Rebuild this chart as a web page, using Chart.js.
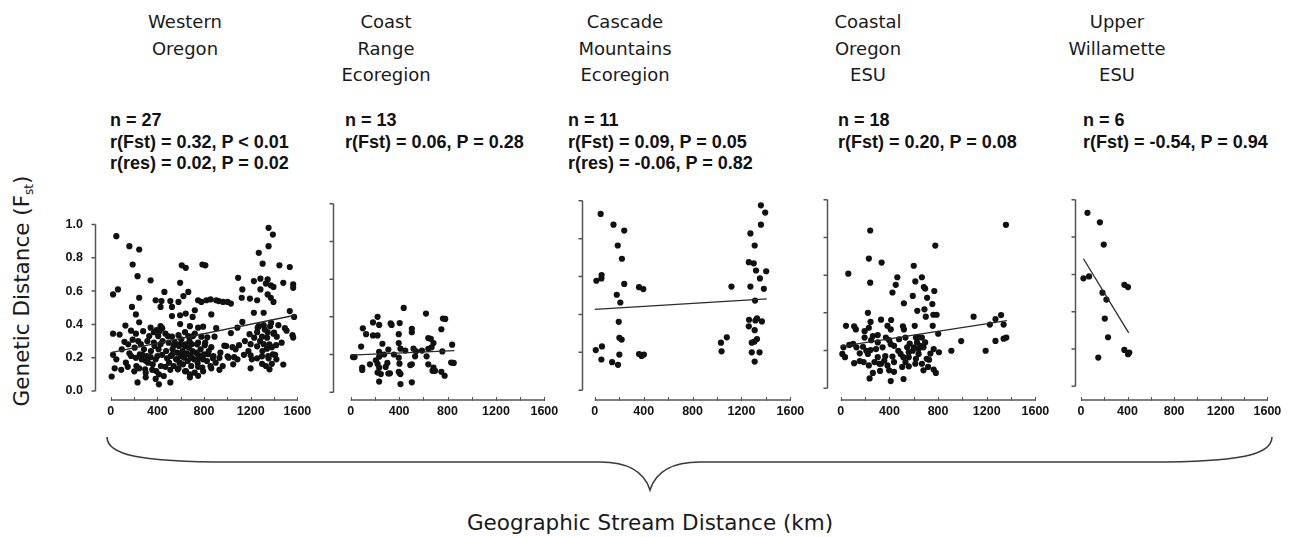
<!DOCTYPE html>
<html>
<head>
<meta charset="utf-8">
<title>Genetic vs geographic stream distance</title>
<script src="https://cdn.jsdelivr.net/npm/chart.js@4.4.1/dist/chart.umd.min.js"></script>
<style>
  html, body { margin: 0; padding: 0; background: #fff; }
  #page { position: relative; width: 1295px; height: 537px; overflow: hidden; background: #fff; }
  .panel { position: absolute; }
  .title { position: absolute; transform: translateX(-50%); text-align: center; white-space: nowrap;
           font-family: "DejaVu Sans", Verdana, sans-serif; font-size: 18px; line-height: 26.5px; color: #1a1a1a; }
  .stats { position: absolute; white-space: pre;
           font-family: "Liberation Sans", Arial, sans-serif;
           font-weight: bold; font-size: 18px; line-height: 21.5px; color: #111; }
  #ytitle { position: absolute; left: 22px; top: 291px; transform: translate(-50%, -50%) rotate(-90deg);
            white-space: nowrap; font-family: "DejaVu Sans", sans-serif; font-size: 21.5px; color: #1a1a1a; }
  #ytitle sub { font-size: 12px; vertical-align: -4px; }
  #xtitle { position: absolute; left: 650px; top: 522px; transform: translate(-50%, -50%);
            white-space: nowrap; font-family: "DejaVu Sans", sans-serif; font-size: 21.5px; color: #1a1a1a; }
  #brace { position: absolute; left: 0; top: 0; }
</style>
</head>
<body>
<div id="page">
  <svg id="brace" width="1295" height="537">
    <path d="M107 437 C107 455 140 462 230 462 L600 462 C632 462 645 474 650 490 C655 474 668 462 700 462 L1150 462 C1240 462 1272 455 1272 437"
          fill="none" stroke="#3a3a3a" stroke-width="1.6"/>
  </svg>
  <div id="ytitle">Genetic Distance (F<sub>st</sub>)</div>
  <div id="xtitle">Geographic Stream Distance (km)</div>
</div>
<script>
// Axis ticks shared by every panel
const tickKm = [0, 400, 800, 1200, 1600];
const minorKm = [0, 200, 400, 600, 800, 1000, 1200, 1400, 1600];
const tickFst = [0, 0.2, 0.4, 0.6, 0.8, 1.0];

// Panel headings and summary statistics
const panelTitles = [
  ["Western", "Oregon"],
  ["Coast", "Range", "Ecoregion"],
  ["Cascade", "Mountains", "Ecoregion"],
  ["Coastal", "Oregon", "ESU"],
  ["Upper", "Willamette", "ESU"]
];
const panelStats = [
  ["n = 27", "r(Fst) = 0.32, P < 0.01", "r(res) = 0.02, P = 0.02"],
  ["n = 13", "r(Fst) = 0.06, P = 0.28"],
  ["n = 11", "r(Fst) = 0.09, P = 0.05", "r(res) = -0.06, P = 0.82"],
  ["n = 18", "r(Fst) = 0.20, P = 0.08"],
  ["n = 6", "r(Fst) = -0.54, P = 0.94"]
];

// Pairwise [stream distance km, Fst]
const westernOregon = [
  [1353,0.98],[1390,0.94],[48,0.93],[160,0.87],[244,0.85],[1353,0.87],[1269,0.83],
  [188,0.76],[609,0.755],[643,0.74],[786,0.76],[811,0.755],[1302,0.765],[1446,0.755],[1535,0.745],
  [230,0.69],[1092,0.68],[1227,0.66],[1283,0.675],[1345,0.67],[342,0.665],[595,0.65],[1479,0.65],
  [1564,0.64],[1564,0.62],[1330,0.645],[1372,0.635],[1395,0.625],[1128,0.61],[1283,0.61],
  [62,0.61],[20,0.58],[460,0.595],[665,0.595],[623,0.57],[244,0.56],[385,0.545],[435,0.54],[511,0.54],
  [581,0.535],[749,0.545],[777,0.535],[820,0.545],[856,0.55],[904,0.545],[926,0.54],[963,0.535],
  [1002,0.535],[1030,0.525],[1123,0.56],[1193,0.555],[1255,0.545],[1345,0.58],[1372,0.56],[1395,0.535],
  [182,0.505],[427,0.505],[525,0.505],[721,0.485],[643,0.465],[216,0.46],[525,0.45],[595,0.455],
  [702,0.445],[862,0.46],[1128,0.415],[1227,0.47],[1311,0.47],[1535,0.48],[1572,0.445],
  [126,0.393],[244,0.413],[342,0.38],[393,0.366],[427,0.389],[441,0.377],[595,0.402],[679,0.389],
  [749,0.38],[792,0.386],[904,0.377],[1086,0.38],[1269,0.389],[1311,0.395],[1367,0.389],[1437,0.395],[1493,0.377],
  [20,0.344],[76,0.339],[174,0.362],[216,0.344],[278,0.359],[370,0.353],[407,0.33],[469,0.344],[525,0.326],
  [581,0.335],[637,0.353],[665,0.33],[721,0.344],[777,0.326],[828,0.322],[890,0.326],[1030,0.348],
  [1190,0.341],[1255,0.353],[1297,0.326],[1345,0.353],[1395,0.344],[1423,0.326],[1507,0.362],[1558,0.335],[1564,0.321],
  [118,0.295],[188,0.308],[258,0.281],[314,0.299],[370,0.29],[427,0.281],[497,0.29],[539,0.272],[595,0.281],
  [637,0.268],[693,0.281],[749,0.29],[806,0.275],[862,0.263],[974,0.272],[1044,0.263],[1100,0.275],
  [1199,0.281],[1255,0.268],[1311,0.281],[1339,0.254],[1381,0.263],[1418,0.275],[1465,0.29],
  [20,0.217],[48,0.19],[160,0.226],[216,0.199],[272,0.217],[300,0.181],[342,0.203],[385,0.19],[441,0.217],
  [483,0.196],[525,0.217],[567,0.19],[609,0.208],[651,0.226],[693,0.199],[749,0.217],[792,0.19],[834,0.221],
  [876,0.196],[932,0.199],[1002,0.208],[1058,0.203],[1086,0.19],[1142,0.217],[1199,0.214],[1255,0.196],
  [1297,0.208],[1353,0.196],[1409,0.217],
  [34,0.136],[90,0.127],[146,0.145],[202,0.118],[244,0.136],[300,0.109],[356,0.127],[413,0.1],[469,0.145],
  [511,0.127],[581,0.136],[637,0.118],[679,0.1],[749,0.145],[792,0.118],[862,0.136],[932,0.127],
  [1199,0.136],[1297,0.163],[1361,0.13],[1381,0.163],[1479,0.159],
  [8,0.087],[230,0.051],[413,0.04],[511,0.051],[300,0.082],[385,0.072],[749,0.091],[679,0.082],
  [95,0.25],[130,0.17],[150,0.28],[175,0.21],[205,0.26],[220,0.15],[235,0.30],[250,0.22],[265,0.19],
  [285,0.25],[295,0.13],[310,0.21],[320,0.17],[330,0.33],[345,0.24],[360,0.16],[375,0.27],[390,0.12],
  [400,0.21],[410,0.25],[420,0.36],[430,0.15],[445,0.30],[455,0.09],[475,0.24],[490,0.33],[500,0.17],
  [515,0.21],[530,0.25],[540,0.15],[550,0.29],[560,0.19],[570,0.23],[575,0.13],[585,0.27],[590,0.17],
  [600,0.21],[605,0.31],[615,0.24],[620,0.16],[630,0.20],[640,0.28],[645,0.12],[655,0.22],[660,0.18],
  [670,0.26],[675,0.30],[685,0.21],[690,0.15],[700,0.24],[705,0.33],[715,0.19],[720,0.11],[730,0.23],
  [740,0.28],[745,0.17],[760,0.20],[770,0.25],[785,0.14],[800,0.22],[810,0.29],[825,0.18],[840,0.24],
  [855,0.15],[880,0.21],[900,0.17],[940,0.23],[960,0.15],[990,0.27],[1010,0.20],[1050,0.16],[1070,0.25],
  [1150,0.30],[1180,0.24],[1210,0.19],[1230,0.32],[1260,0.38],[1280,0.30],[1300,0.24],[1320,0.37],
  [1340,0.32],[1360,0.28],[1375,0.41],[1390,0.22],[1400,0.35],[1420,0.19],[1330,0.15],[1350,0.21]
];
const coastRange = [
  [222,0.40],[184,0.37],[235,0.357],[330,0.365],[338,0.357],[405,0.367],[622,0.417],[438,0.447],[762,0.391],[781,0.389],
  [100,0.339],[127,0.308],[184,0.301],[222,0.301],[397,0.308],[505,0.336],[505,0.318],[749,0.334],[641,0.287],[662,0.283],[684,0.261],
  [86,0.242],[262,0.257],[311,0.226],[397,0.261],[411,0.231],[519,0.231],[589,0.221],[641,0.23],[668,0.238],[757,0.216],[838,0.252],
  [235,0.214],[276,0.2],[19,0.186],[32,0.186],[357,0.2],[397,0.183],[532,0.19],[627,0.19],
  [159,0.148],[95,0.13],[95,0.118],[208,0.169],[222,0.15],[235,0.13],[303,0.155],[289,0.134],[403,0.151],[492,0.144],
  [505,0.148],[641,0.148],[684,0.13],[697,0.113],[676,0.113],[749,0.108],[776,0.087],[830,0.157],[851,0.155],
  [222,0.104],[249,0.096],[311,0.099],[324,0.1],[397,0.108],[411,0.096],[405,0.1],[235,0.056],[411,0.043],[505,0.052],
  [235,0.188],[451,0.221],[540,0.217]
];
const cascadeMountains = [
  [48,0.931],[153,0.874],[241,0.843],[188,0.764],[222,0.694],[241,0.561],[13,0.578],[54,0.59],[56,0.608],
  [180,0.504],[209,0.463],[362,0.544],[397,0.534],[196,0.361],[201,0.277],[220,0.267],[8,0.212],[59,0.231],
  [54,0.162],[142,0.148],[190,0.134],[201,0.188],[362,0.191],[383,0.181],[402,0.188],
  [1032,0.251],[1037,0.205],[1080,0.279],[1118,0.547],[1359,0.976],[1394,0.938],[1359,0.874],[1273,0.828],
  [1308,0.764],[1260,0.676],[1300,0.67],[1319,0.632],[1402,0.628],[1351,0.59],[1383,0.535],[1273,0.547],
  [1311,0.473],[1327,0.38],[1314,0.368],[1262,0.372],[1367,0.363],[1260,0.337],[1308,0.317],[1284,0.251],
  [1305,0.256],[1327,0.27],[1284,0.2],[1348,0.2],[1308,0.151]
];
const coastalOregon = [
  [1358,0.867],[242,0.837],[777,0.757],[231,0.688],[336,0.667],[62,0.608],[600,0.65],[465,0.589],[242,0.56],
  [667,0.589],[613,0.567],[683,0.537],[694,0.529],[452,0.549],[425,0.508],[769,0.516],[592,0.49],[519,0.451],
  [710,0.48],[753,0.447],[629,0.411],[688,0.419],[699,0.38],[761,0.39],[788,0.39],[1092,0.38],[1272,0.367],
  [1318,0.388],[1339,0.338],[1226,0.338],[223,0.4],[245,0.352],[331,0.364],[414,0.362],[384,0.331],[411,0.312],
  [43,0.331],[110,0.329],[124,0.312],[196,0.303],[231,0.321],[304,0.282],[371,0.269],[398,0.255],[511,0.329],
  [519,0.312],[532,0.269],[618,0.269],[640,0.272],[667,0.269],[756,0.331],[801,0.289],[608,0.331],[196,0.269],
  [250,0.255],[22,0.217],[70,0.23],[102,0.236],[183,0.22],[245,0.203],[223,0.182],[290,0.208],[344,0.217],
  [438,0.225],[473,0.199],[546,0.217],[567,0.237],[602,0.217],[640,0.208],[680,0.217],[764,0.208],[990,0.25],
  [909,0.199],[1191,0.199],[1272,0.251],[1361,0.269],[1339,0.263],[13,0.182],[35,0.165],[110,0.133],[156,0.144],
  [188,0.139],[231,0.121],[304,0.165],[317,0.13],[366,0.17],[384,0.121],[398,0.095],[425,0.168],[492,0.182],
  [514,0.165],[532,0.139],[559,0.165],[618,0.156],[640,0.182],[667,0.13],[680,0.095],[718,0.113],[764,0.099],
  [782,0.081],[726,0.151],[737,0.184],[807,0.191],[237,0.052],[264,0.081],[323,0.092],[411,0.038],[516,0.049],
  [559,0.116],[210,0.199],[264,0.277],[304,0.243],[331,0.13],[358,0.147],[411,0.234],[438,0.139],[479,0.26],
  [505,0.113],[559,0.191],[592,0.199],[613,0.13],[627,0.243],[653,0.225],[694,0.243],[707,0.156],[129,0.217],
  [156,0.185],[277,0.139],[438,0.087]
];
const upperWillamette = [
  [56,0.93],[163,0.879],[196,0.76],[22,0.579],[70,0.589],[185,0.502],[219,0.465],[373,0.544],[404,0.532],
  [205,0.363],[233,0.263],[149,0.154],[373,0.195],[404,0.172],[415,0.181]
];

// Least-squares lines, as drawn end to end
const westernOregonFit = [[0,0.23],[1580,0.455]];
const coastRangeFit = [[0,0.197],[857,0.221]];
const cascadeMountainsFit = [[0,0.427],[1407,0.482]];
const coastalOregonFit = [[0,0.222],[1366,0.359]];
const upperWillametteFit = [[22,0.684],[410,0.286]];

const panelPoints = [westernOregon, coastRange, cascadeMountains, coastalOregon, upperWillamette];
const panelFits = [westernOregonFit, coastRangeFit, cascadeMountainsFit, coastalOregonFit, upperWillametteFit];

// Page geometry of each panel (pixels): y-axis x, x=0 and x=1600 pixels, y=1 and y=0 pixels, x-axis line
const frames = [
  { axisX: 95,   x0: 111,  x1: 301,  y1: 206, y0: 390, base: 400, yW: 40, labels: true },
  { axisX: 333,  x0: 351,  x1: 548,  y1: 200, y0: 392, base: 400, yW: 10, labels: false },
  { axisX: 582,  x0: 595,  x1: 794,  y1: 197, y0: 390, base: 400, yW: 10, labels: false },
  { axisX: 827,  x0: 841,  x1: 1039, y1: 196, y0: 388, base: 400, yW: 10, labels: false },
  { axisX: 1075, x0: 1081, x1: 1271, y1: 196, y0: 386, base: 400, yW: 10, labels: false }
];
const titleCenters = [185, 386, 625, 868, 1117];
const statsLeft = [110, 345, 568, 838, 1083];

const tickFontFamily = "'Liberation Sans', Arial, sans-serif";

// Draws the detached axis lines with their small tick marks
const axisFrame = {
  id: 'axisFrame',
  beforeDatasetsDraw(chart) {
    const { ctx, scales: { x, y }, chartArea } = chart;
    ctx.save();
    ctx.strokeStyle = '#555';
    ctx.lineWidth = 1.5;
    const ax = chartArea.left + 0.5;
    ctx.beginPath();
    ctx.moveTo(ax, y.getPixelForValue(1.0));
    ctx.lineTo(ax, y.getPixelForValue(0));
    tickFst.forEach(v => {
      const py = y.getPixelForValue(v);
      ctx.moveTo(ax - 4, py);
      ctx.lineTo(ax, py);
    });
    ctx.stroke();
    const by = chartArea.bottom;
    ctx.lineWidth = 1.4;
    ctx.beginPath();
    ctx.moveTo(x.getPixelForValue(0), by);
    ctx.lineTo(x.getPixelForValue(1600), by);
    ctx.stroke();
    ctx.lineWidth = 1;
    ctx.beginPath();
    minorKm.forEach(v => {
      const px = Math.round(x.getPixelForValue(v)) + 0.5;
      ctx.moveTo(px, by - 3);
      ctx.lineTo(px, by + 1);
    });
    ctx.stroke();
    ctx.restore();
  }
};

const page = document.getElementById('page');
const X_AXIS_H = 26;

frames.forEach((g, i) => {
  // Headings
  const t = document.createElement('div');
  t.className = 'title';
  t.style.left = titleCenters[i] + 'px';
  t.style.top = '9px';
  t.innerHTML = panelTitles[i].join('<br>');
  page.appendChild(t);

  const s = document.createElement('div');
  s.className = 'stats';
  s.style.left = statsLeft[i] + 'px';
  s.style.top = '110px';
  s.textContent = panelStats[i].join('\n');
  page.appendChild(s);

  // Chart canvas
  const left = g.axisX - g.yW;
  const top = g.y1 - 10;
  const right = g.x1 + 22;
  const w = right - left;
  const h = g.base + X_AXIS_H - top;
  const kmPerPx = 1600 / (g.x1 - g.x0);
  const fstPerPx = 1 / (g.y0 - g.y1);

  const wrap = document.createElement('div');
  wrap.className = 'panel';
  wrap.style.left = left + 'px';
  wrap.style.top = top + 'px';
  const canvas = document.createElement('canvas');
  canvas.width = w;
  canvas.height = h;
  canvas.style.width = w + 'px';
  canvas.style.height = h + 'px';
  wrap.appendChild(canvas);
  page.appendChild(wrap);

  new Chart(canvas, {
    type: 'scatter',
    data: {
      datasets: [
        {
          data: panelFits[i].map(([x, y]) => ({ x, y })),
          showLine: true,
          borderColor: '#2a2a2a',
          borderWidth: 1.3,
          pointRadius: 0,
          clip: false,
          order: 0
        },
        {
          data: panelPoints[i].map(([x, y]) => ({ x, y })),
          pointRadius: 3.1,
          pointBackgroundColor: '#111',
          pointBorderWidth: 0,
          clip: false,
          order: 1
        }
      ]
    },
    options: {
      responsive: false,
      animation: false,
      events: [],
      devicePixelRatio: 1,
      layout: { padding: 0 },
      plugins: { legend: { display: false }, tooltip: { enabled: false } },
      scales: {
        x: {
          type: 'linear',
          min: -(g.x0 - g.axisX) * kmPerPx,
          max: 1600 + (right - g.x1) * kmPerPx,
          afterBuildTicks: sc => { sc.ticks = tickKm.map(v => ({ value: v })); },
          afterFit: sc => { sc.height = X_AXIS_H; },
          grid: { display: false, drawTicks: false },
          border: { display: false },
          ticks: {
            autoSkip: false, maxRotation: 0, padding: 4, color: '#111',
            font: { family: tickFontFamily, weight: 'bold', size: 12.5 },
            callback: v => String(v)
          }
        },
        y: {
          type: 'linear',
          min: -(g.base - g.y0) * fstPerPx,
          max: 1 + 10 * fstPerPx,
          afterBuildTicks: sc => { sc.ticks = tickFst.map(v => ({ value: v })); },
          afterFit: sc => { sc.width = g.yW; },
          grid: { display: false, drawTicks: false },
          border: { display: false },
          ticks: {
            display: g.labels, padding: 12, color: '#111',
            font: { family: tickFontFamily, weight: 'bold', size: 12.5 },
            callback: v => v.toFixed(1)
          }
        }
      }
    },
    plugins: [axisFrame]
  });
});
</script>
</body>
</html>
